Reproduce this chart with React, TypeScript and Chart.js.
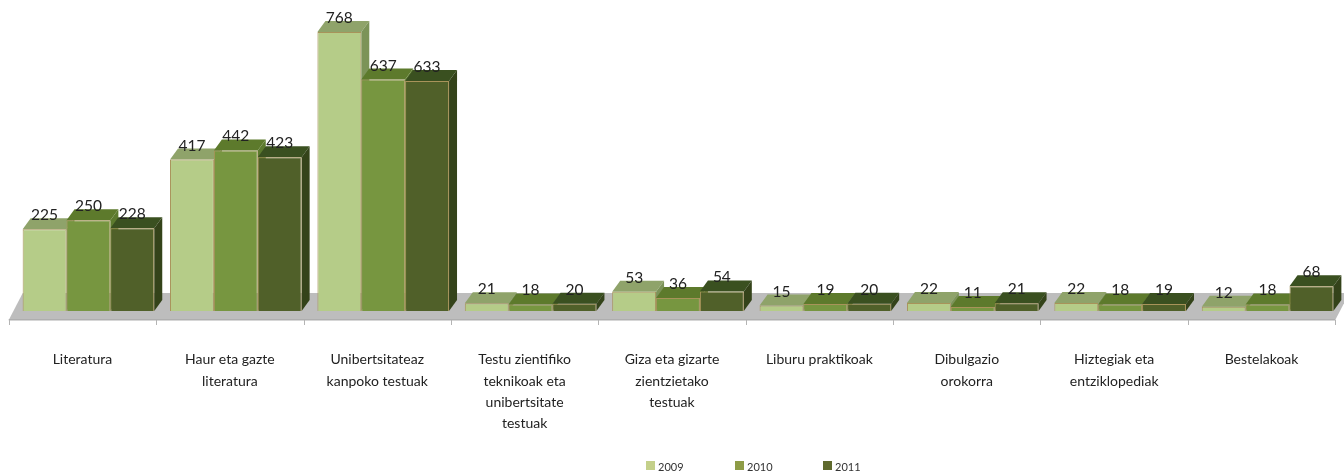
import React, { useEffect, useRef } from "react";
import { Chart, registerables } from "chart.js";

Chart.register(...registerables);

const categories = [
  "Literatura",
  ["Haur eta gazte", "literatura"],
  ["Unibertsitateaz", "kanpoko testuak"],
  ["Testu zientifiko", "teknikoak eta", "unibertsitate", "testuak"],
  ["Giza eta gizarte", "zientzietako", "testuak"],
  "Liburu praktikoak",
  ["Dibulgazio", "orokorra"],
  ["Hiztegiak eta", "entziklopediak"],
  "Bestelakoak",
];
const years = ["2009", "2010", "2011"];
const values2009 = [225, 417, 768, 21, 53, 15, 22, 22, 12];
const values2010 = [250, 442, 637, 18, 36, 19, 11, 18, 18];
const values2011 = [228, 423, 633, 20, 54, 20, 21, 19, 68];
const frontColors = ["#b5cc88", "#779640", "#506029"];
const topColors = ["#8fa36a", "#5d7a2c", "#3a5020"];
const sideColors = ["#7c9358", "#5c7a2e", "#34431a"];
const legendColors = ["#c4d08a", "#8e9c46", "#5f6a2e"];

const FONT = "Lato, 'Open Sans', sans-serif";
const DX = 8;
const DY = 11;
const SHIFT = 6;

function poly(ctx: CanvasRenderingContext2D, pts: number[][], fill: string) {
  ctx.beginPath();
  pts.forEach(([x, y], i) => (i ? ctx.lineTo(x, y) : ctx.moveTo(x, y)));
  ctx.closePath();
  ctx.fillStyle = fill;
  ctx.fill();
}

const bar3d = {
  id: "bar3d",
  beforeDatasetsDraw(chart: any) {
    const { ctx, scales } = chart;
    const x = scales.x;
    const base = scales.y.getPixelForValue(0);
    const l = x.left - SHIFT;
    const r = x.right - SHIFT;
    ctx.save();
    // floor
    poly(ctx, [[l, base + 9], [l + 14, base - 18], [r + 14, base - 18], [r, base + 9]], "#bdbdbd");
    ctx.fillStyle = "#aeaeae";
    ctx.fillRect(l, base + 8, r - l, 1.5);
    // ticks
    ctx.strokeStyle = "#b4b4b4";
    ctx.lineWidth = 1;
    for (let i = 0; i <= categories.length; i++) {
      const tx = Math.round(l + (i * (r - l)) / categories.length) + 0.5;
      ctx.beginPath();
      ctx.moveTo(tx, base + 9);
      ctx.lineTo(tx, base + 14);
      ctx.stroke();
    }
    // top and side faces
    chart.data.datasets.forEach((_: any, d: number) => {
      chart.getDatasetMeta(d).data.forEach((b: any) => {
        const hw = b.width / 2;
        const L = b.x - hw;
        const R = b.x + hw;
        poly(ctx, [[L, b.y], [L + DX, b.y - DY], [R + DX, b.y - DY], [R, b.y]], topColors[d]);
        poly(ctx, [[R, b.y], [R + DX, b.y - DY], [R + DX, base - DY], [R, base]], sideColors[d]);
      });
    });
    ctx.restore();
  },
  afterDatasetsDraw(chart: any) {
    const { ctx } = chart;
    ctx.save();
    ctx.fillStyle = "#222222";
    ctx.font = `15.5px ${FONT}`;
    ctx.textAlign = "center";
    ctx.textBaseline = "middle";
    chart.data.datasets.forEach((ds: any, d: number) => {
      chart.getDatasetMeta(d).data.forEach((b: any, i: number) => {
        ctx.fillText(String(ds.data[i]), b.x, b.y - 14);
      });
    });
    // legend
    ctx.font = `11px ${FONT}`;
    ctx.textAlign = "left";
    const cx = [646, 735, 823];
    chart.data.datasets.forEach((ds: any, d: number) => {
      ctx.fillStyle = legendColors[d];
      ctx.fillRect(cx[d], 461, 9, 9);
      ctx.fillStyle = "#333333";
      ctx.fillText(ds.label, cx[d] + 12, 467);
    });
    ctx.restore();
  },
};

export default function App() {
  const ref = useRef<HTMLCanvasElement>(null);
  useEffect(() => {
    document.body.style.margin = "0";
    const data = [values2009, values2010, values2011];
    const chart = new Chart(ref.current!, {
      type: "bar",
      plugins: [bar3d],
      data: {
        labels: categories as any,
        datasets: years.map((y, i) => ({
          label: y,
          data: data[i],
          backgroundColor: frontColors[i],
          borderColor: "#a8935a",
          borderWidth: 1,
          categoryPercentage: 0.893,
          barPercentage: 1,
        })),
      },
      options: {
        responsive: false,
        animation: false,
        layout: { padding: { left: 14.75, right: 2.75, top: 20.4, bottom: 0 } },
        plugins: { legend: { display: false }, tooltip: { enabled: false } },
        scales: {
          y: { display: false, min: 0, max: 800 },
          x: {
            grid: { display: false },
            border: { display: false },
            afterFit: (s: any) => {
              s.height = 162;
            },
            ticks: {
              autoSkip: false,
              maxRotation: 0,
              minRotation: 0,
              padding: 30,
              labelOffset: -SHIFT,
              color: "#222222",
              font: { family: FONT, size: 14, lineHeight: 1.53 },
            },
          },
        },
      },
    });
    return () => chart.destroy();
  }, []);
  return <canvas ref={ref} width={1344} height={473} style={{ display: "block" }} />;
}
